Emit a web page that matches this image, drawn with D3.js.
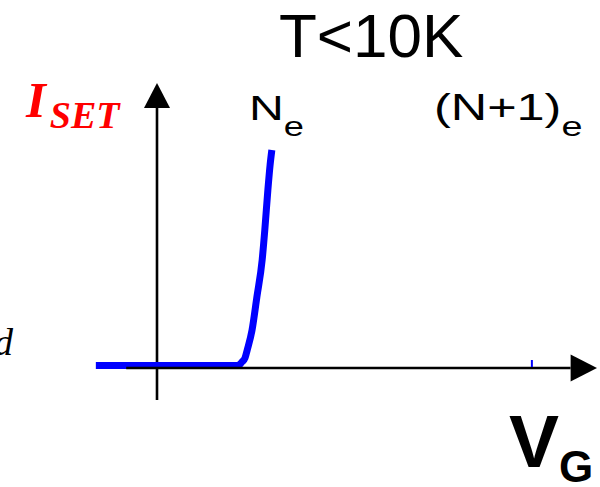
<!DOCTYPE html>
<html>
<head>
<meta charset="utf-8">
<script src="https://cdn.jsdelivr.net/npm/d3@7"></script>
<style>
  html, body { margin: 0; padding: 0; background: #fff; }
  svg { display: block; }
</style>
</head>
<body>
<script>
// Sketch data: gate voltage (arbitrary units) and SET current
const vGate = [-1.39, 1.84, 1.93, 2.0, 2.05, 2.16, 2.27, 2.39, 2.45, 2.52, 2.57, 2.61];
const iSet  = [0.09, 0.09, 0.21, 0.35, 0.63, 1.33, 2.49, 3.79, 4.84, 6.25, 7.12, 7.65];
// small blue mark on the V_G axis
const markerV = [8.52];
const stateLabels = ['N', '(N+1)'];

const W = 600, H = 487;
const LINE_COLOR = '#0000ff';
const AXIS_WIDTH = 2.6;

const svg = d3.select('body').append('svg')
  .attr('width', W)
  .attr('height', H);

const x = d3.scaleLinear().domain([0, 10]).range([157, 597]);
const y = d3.scaleLinear().domain([0, 10]).range([368, 83]);

// y axis (drawn first so the curve sits on it)
svg.append('line')
  .attr('x1', x(0)).attr('x2', x(0))
  .attr('y1', y(-1.12)).attr('y2', y(9.2))
  .attr('stroke', '#000')
  .attr('stroke-width', AXIS_WIDTH);
svg.append('path')
  .attr('d', `M${x(0)},${y(10)} L${x(0) - 13},${y(9.12)} L${x(0) + 13},${y(9.12)} Z`)
  .attr('fill', '#000');

// current curve
const line = d3.line()
  .x(d => x(d[0]))
  .y(d => y(d[1]))
  .curve(d3.curveMonotoneX);

svg.append('path')
  .datum(d3.zip(vGate, iSet))
  .attr('d', line)
  .attr('fill', 'none')
  .attr('stroke', LINE_COLOR)
  .attr('stroke-width', 7)
  .attr('stroke-linejoin', 'round');

// x axis on top of the flat part of the curve
svg.append('line')
  .attr('x1', x(-0.7)).attr('x2', x(9.4))
  .attr('y1', y(0)).attr('y2', y(0))
  .attr('stroke', '#000')
  .attr('stroke-width', AXIS_WIDTH);
svg.append('path')
  .attr('d', `M${x(10)},${y(0)} L${x(9.4)},${y(0) - 13.5} L${x(9.4)},${y(0) + 13.5} Z`)
  .attr('fill', '#000');

svg.selectAll('line.marker')
  .data(markerV)
  .join('line')
  .attr('class', 'marker')
  .attr('x1', d => x(d)).attr('x2', d => x(d))
  .attr('y1', y(0) - 8).attr('y2', y(0) - 1)
  .attr('stroke', LINE_COLOR)
  .attr('stroke-width', 2);

// title
svg.append('text')
  .attr('x', 279)
  .attr('y', 57)
  .attr('font-family', 'Liberation Sans, Arial, sans-serif')
  .attr('font-size', 62)
  .attr('fill', '#000')
  .text('T<10K');

// electron-number labels (horizontally stretched in the original)
const labelPos = [[249, 120], [434, 120]];
const labelScale = [1.34, 1.4];
stateLabels.forEach((lab, i) => {
  const t = svg.append('g')
    .attr('transform', `translate(${labelPos[i][0]},${labelPos[i][1]}) scale(${labelScale[i]},1)`)
    .append('text')
    .attr('font-family', 'Liberation Sans, Arial, sans-serif')
    .attr('font-size', 36)
    .attr('fill', '#000');
  t.append('tspan').text(lab);
  t.append('tspan').attr('font-size', 27).attr('dy', 16).text('e');
});

// y axis label
const iLab = svg.append('text')
  .attr('x', 26)
  .attr('y', 117)
  .attr('font-family', 'Liberation Serif, Times New Roman, serif')
  .attr('font-style', 'italic')
  .attr('font-weight', 'bold')
  .attr('fill', '#ff0000');
iLab.append('tspan').attr('font-size', 51).text('I');
iLab.append('tspan').attr('font-size', 38).attr('dx', 4).attr('dy', 11).text('SET');

// x axis label
const vLab = svg.append('text')
  .attr('x', 509)
  .attr('y', 467)
  .attr('font-family', 'Liberation Sans, Arial, sans-serif')
  .attr('font-weight', 'bold')
  .attr('fill', '#000');
vLab.append('tspan').attr('font-size', 75).text('V');
vLab.append('tspan').attr('font-size', 44).attr('dy', 15).text('G');

// stray italic letter at the left edge
svg.append('text')
  .attr('x', 13)
  .attr('y', 355)
  .attr('text-anchor', 'end')
  .attr('font-family', 'Liberation Serif, Times New Roman, serif')
  .attr('font-style', 'italic')
  .attr('font-size', 38)
  .attr('fill', '#000')
  .text('d');
</script>
</body>
</html>
